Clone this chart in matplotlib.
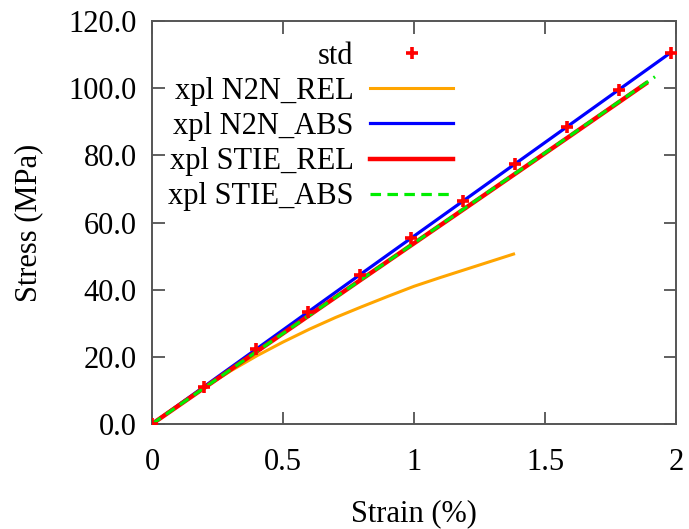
import numpy as np
import matplotlib
matplotlib.use("Agg")
import matplotlib.pyplot as plt

# ----------------------------------------------------------------------
# data
# ----------------------------------------------------------------------
std_strain = [0.0, 0.198, 0.396, 0.594, 0.792, 0.99, 1.188, 1.386, 1.584, 1.782, 1.98]
std_stress = [0.0, 11.1, 22.2, 33.3, 44.3, 55.4, 66.4, 77.5, 88.5, 99.5, 110.6]

n2n_rel_strain = [0.0, 0.1, 0.2, 0.3, 0.4, 0.5, 0.6, 0.7, 0.8, 0.9, 1.0, 1.1, 1.2, 1.3, 1.38]
n2n_rel_stress = [0.0, 5.6, 10.9, 15.8, 20.3, 24.4, 28.2, 31.7, 34.9, 38.0, 41.0, 43.6, 46.1, 48.6, 50.6]

n2n_abs_strain = [0.0, 0.4, 0.8, 1.2, 1.6, 1.98]
n2n_abs_stress = [0.0, 22.4, 44.8, 67.1, 89.4, 110.6]

stie_rel_strain = [0.0, 0.4, 0.8, 1.2, 1.6, 1.885]
stie_rel_stress = [0.0, 21.6, 43.1, 64.5, 86.0, 101.4]

stie_abs_strain = [0.0, 0.4, 0.8, 1.2, 1.6, 1.92]
stie_abs_stress = [0.0, 21.6, 43.1, 64.6, 86.1, 103.4]

xticks = [0, 0.5, 1, 1.5, 2]
xticklabels = ["0", "0.5", "1", "1.5", "2"]
yticks = [0, 20, 40, 60, 80, 100, 120]

plt.rcParams["font.family"] = ["Liberation Serif", "DejaVu Serif"]
plt.rcParams["font.size"] = 22

fig = plt.figure(figsize=(6.89, 5.29), dpi=100)
ax = fig.add_axes([152 / 689, 105 / 529, 524 / 689, 403 / 529])

ax.plot(std_strain, std_stress, linestyle="none", marker="+", color="red",
        ms=9, mew=2.6, zorder=5, label="std")
ax.plot(n2n_rel_strain, n2n_rel_stress, color="orange", lw=2.2, label="xpl N2N_REL")
ax.plot(n2n_abs_strain, n2n_abs_stress, color="blue", lw=2.3, label="xpl N2N_ABS")
ax.plot(stie_rel_strain, stie_rel_stress, color="red", lw=3.2, label="xpl STIE_REL")
ax.plot(stie_abs_strain, stie_abs_stress, color="#00ee00", lw=2.3,
        dashes=(3.3, 2.0), label="xpl STIE_ABS")

ax.set_xlim(0, 2)
ax.set_ylim(0, 120)
ax.set_xticks(xticks)
ax.set_xticklabels(xticklabels)
ax.set_yticks(yticks)
ax.set_yticklabels([f"{v:.1f}" for v in yticks])

ax.tick_params(direction="in", length=9, width=1.2, color="#444444",
               top=True, right=True)
ax.tick_params(axis="x", pad=17)
ax.tick_params(axis="y", pad=11)
for sp in ax.spines.values():
    sp.set_color("#555555")
    sp.set_linewidth(1.4)

ax.set_xlabel("Strain (%)", labelpad=16)
ax.set_ylabel("Stress (MPa)", labelpad=18)

# markerfirst=False puts the labels right-aligned left of the handles
ax.legend(loc="upper right", bbox_to_anchor=(0.574, 0.948), frameon=False,
          markerfirst=False, handlelength=2.7, handletextpad=0.55,
          labelspacing=0.2, borderaxespad=0.0, borderpad=0.0)

fig.savefig("out.png", dpi=100)
